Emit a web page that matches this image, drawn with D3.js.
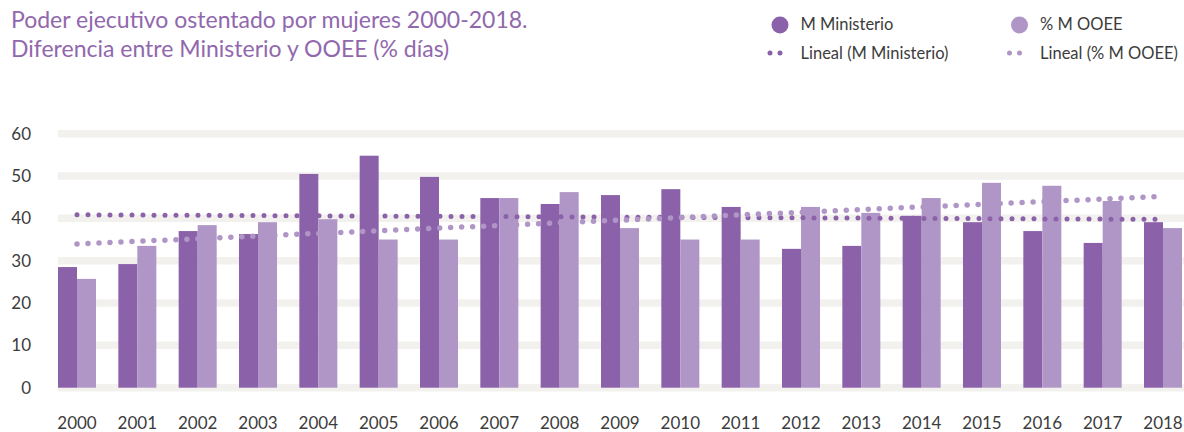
<!DOCTYPE html>
<html>
<head>
<meta charset="utf-8">
<script src="https://cdn.jsdelivr.net/npm/d3@7"></script>
<style>
  body { margin: 0; background: #fff; }
  svg { display: block; font-family: Lato, "Open Sans", sans-serif; }
</style>
</head>
<body>
<div id="chart"></div>
<script>
var svgWidth = 1184;
var svgHeight = 432;

// data
var years = ["2000", "2001", "2002", "2003", "2004", "2005", "2006", "2007", "2008", "2009",
  "2010", "2011", "2012", "2013", "2014", "2015", "2016", "2017", "2018"];
var ministerio = [28.5, 29.2, 37.0, 36.3, 50.5, 54.8, 49.8, 44.8, 43.4, 45.5,
  46.9, 42.7, 32.8, 33.5, 40.6, 39.1, 37.0, 34.2, 39.1];
var ooee = [25.7, 33.5, 38.4, 39.1, 39.8, 35.0, 35.0, 44.8, 46.2, 37.7,
  35.0, 35.0, 42.7, 41.3, 44.8, 48.4, 47.7, 44.1, 37.7];
var yTicks = [0, 10, 20, 30, 40, 50, 60];
var seriesNames = ["M Ministerio", "% M OOEE"];
var trendNames = ["Lineal (M Ministerio)", "Lineal (% M OOEE)"];

var darkColor = "#8b62a9";
var lightColor = "#b096c6";
var titleColor = "#9168ad";
var textColor = "#3c3c3c";
var gridColor = "#f2f1ee";

var svg = d3.select("#chart")
  .append("svg")
  .attr("width", svgWidth)
  .attr("height", svgHeight);

// scales
var x0 = d3.scaleBand()
  .domain(years)
  .range([58, 1182])
  .paddingInner(0.37)
  .paddingOuter(0);

var x1 = d3.scaleBand()
  .domain(["m", "o"])
  .range([0, x0.bandwidth()]);

var y = d3.scaleLinear()
  .domain([0, 60])
  .range([387.7, 133.7]);

// grid bands
svg.append("g")
  .selectAll("line")
  .data(yTicks)
  .enter()
  .append("line")
  .attr("x1", 58)
  .attr("x2", svgWidth)
  .attr("y1", d => y(d))
  .attr("y2", d => y(d))
  .attr("stroke", gridColor)
  .attr("stroke-width", 7.5);

// y axis labels
var leftAxis = d3.axisLeft(y).tickValues(yTicks).tickSize(0).tickPadding(0);
var yAxis = svg.append("g")
  .attr("transform", "translate(31, 0)")
  .call(leftAxis);
yAxis.select(".domain").remove();
yAxis.selectAll("text")
  .attr("fill", textColor)
  .style("font-size", "17px")
  .style("font-family", "Lato, sans-serif");

// x axis labels
var bottomAxis = d3.axisBottom(x0).tickSize(0).tickPadding(0);
var xAxis = svg.append("g")
  .attr("transform", "translate(0, 417)")
  .call(bottomAxis);
xAxis.select(".domain").remove();
xAxis.selectAll("text")
  .attr("fill", textColor)
  .attr("dy", "0.72em")
  .style("font-size", "17px")
  .style("font-family", "Lato, sans-serif");

// bars
var groups = svg.append("g")
  .selectAll("g")
  .data(years)
  .enter()
  .append("g")
  .attr("transform", d => `translate(${x0(d)}, 0)`);

groups.append("rect")
  .attr("x", x1("m"))
  .attr("width", x1.bandwidth())
  .attr("y", (d, i) => y(ministerio[i]))
  .attr("height", (d, i) => y(0) - y(ministerio[i]))
  .attr("fill", darkColor);

groups.append("rect")
  .attr("x", x1("o"))
  .attr("width", x1.bandwidth())
  .attr("y", (d, i) => y(ooee[i]))
  .attr("height", (d, i) => y(0) - y(ooee[i]))
  .attr("fill", lightColor);

// linear trend lines (least squares, like Excel "Lineal")
function linearFit(values) {
  var n = values.length;
  var xs = d3.range(1, n + 1);
  var mx = d3.mean(xs), my = d3.mean(values);
  var num = d3.sum(xs, (xv, i) => (xv - mx) * (values[i] - my));
  var den = d3.sum(xs, xv => (xv - mx) * (xv - mx));
  var b = num / den;
  var a = my - b * mx;
  return [a + b * 1, a + b * n];
}

var center = d => x0(d) + x0.bandwidth() / 2;
var trends = [
  { fit: linearFit(ministerio), color: darkColor, width: 5 },
  { fit: linearFit(ooee), color: lightColor, width: 5.5 }
];

trends.forEach(function(t) {
  svg.append("line")
    .attr("x1", center(years[0]))
    .attr("x2", center(years[years.length - 1]))
    .attr("y1", y(t.fit[0]))
    .attr("y2", y(t.fit[1]))
    .attr("stroke", t.color)
    .attr("stroke-width", t.width)
    .attr("stroke-linecap", "round")
    .attr("stroke-dasharray", "0 11");
});

// title
var title = svg.append("text")
  .attr("x", 11)
  .attr("fill", titleColor)
  .style("font-size", "23px");
title.append("tspan").attr("x", 11).attr("y", 28).text("Poder ejecutivo ostentado por mujeres 2000-2018.");
title.append("tspan").attr("x", 11).attr("y", 57).text("Diferencia entre Ministerio y OOEE (% días)");

// legend
var legendX = [780, 1019.5];
var legend = svg.append("g");

legendX.forEach(function(lx, i) {
  var col = i === 0 ? darkColor : lightColor;
  legend.append("circle")
    .attr("cx", lx)
    .attr("cy", 25)
    .attr("r", 8.5)
    .attr("fill", col);
  legend.append("text")
    .attr("x", lx + 20.5)
    .attr("y", 30)
    .attr("fill", textColor)
    .style("font-size", "16.5px")
    .text(seriesNames[i]);
  legend.append("line")
    .attr("x1", lx - 10)
    .attr("x2", lx + 10)
    .attr("y1", 53)
    .attr("y2", 53)
    .attr("stroke", col)
    .attr("stroke-width", 5)
    .attr("stroke-linecap", "round")
    .attr("stroke-dasharray", "0 10");
  legend.append("text")
    .attr("x", lx + 20.5)
    .attr("y", 58.5)
    .attr("fill", textColor)
    .style("font-size", "16.5px")
    .text(trendNames[i]);
});
</script>
</body>
</html>
